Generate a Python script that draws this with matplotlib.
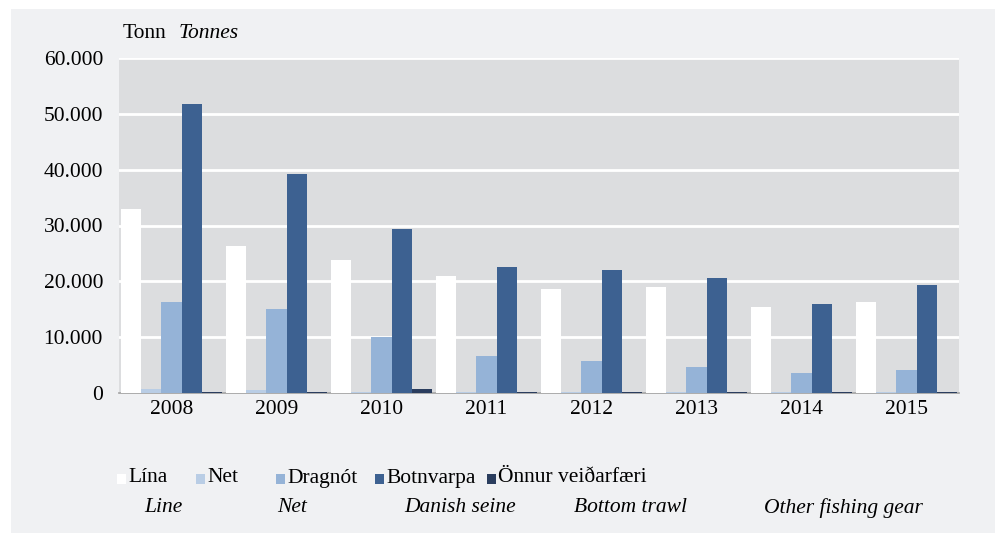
import numpy as np
import matplotlib
matplotlib.use('Agg')
import matplotlib.pyplot as plt
from matplotlib.patches import Rectangle

plt.rcParams['font.family'] = ['Liberation Serif', 'DejaVu Serif']

years = ['2008', '2009', '2010', '2011', '2012', '2013', '2014', '2015']
lina = [33000, 26400, 23900, 21000, 18700, 19000, 15450, 16350]
net = [700, 450, 250, 250, 250, 150, 100, 100]
dragnot = [16350, 15100, 10000, 6700, 5800, 4700, 3550, 4100]
botnvarpa = [51700, 39150, 29450, 22600, 22100, 20650, 16000, 19400]
onnur = [200, 150, 700, 150, 250, 150, 100, 100]

series_is = ['Lína', 'Net', 'Dragnót', 'Botnvarpa', 'Önnur veiðarfæri']
series_en = ['Line', 'Net', 'Danish seine', 'Bottom trawl', 'Other fishing gear']
colors = ['#ffffff', '#b9cde5', '#95b3d7', '#3d6191', '#2a3d5e']

W, H = 1000, 533
fs = 15.5
fig = plt.figure(figsize=(10, 5.33), dpi=100)
fig.patch.set_facecolor('white')
# light grey panel behind the chart
fig.patches.append(Rectangle((11 / W, 0), (995 - 11) / W, (H - 9) / H,
                             transform=fig.transFigure, facecolor='#f0f1f3',
                             edgecolor='none', zorder=-10))

ax = fig.add_axes([119 / W, (H - 393) / H, (959 - 119) / W, (393 - 58) / H])
ax.set_facecolor('#dcdddf')

data = [lina, net, dragnot, botnvarpa, onnur]
x = np.arange(len(years))
bw = 0.192
for i, vals in enumerate(data):
    ax.bar(x - 0.5 + 0.02 + bw * (i + 0.5), vals, width=bw, color=colors[i],
           edgecolor='none', zorder=3)

ax.set_xlim(-0.5, len(years) - 0.5)
ax.set_ylim(0, 60000)
ax.set_yticks(np.arange(0, 60001, 10000))
ax.set_yticklabels(['0', '10.000', '20.000', '30.000', '40.000', '50.000', '60.000'])
ax.set_xticks(x)
ax.set_xticklabels(years)
ax.yaxis.grid(True, color='white', linewidth=2, zorder=1)
ax.tick_params(length=0, labelsize=fs)
ax.tick_params(axis='y', pad=11.5)
ax.tick_params(axis='x', pad=5)
for s in ['top', 'right', 'left']:
    ax.spines[s].set_visible(False)
ax.spines['bottom'].set_color('#a0a0a0')
ax.spines['bottom'].set_linewidth(1.2)

fig.text(123 / W, 1 - 34 / H, 'Tonn', fontsize=fs, va='center')
fig.text(179 / W, 1 - 34 / H, 'Tonnes', fontsize=fs, style='italic', va='center')

# legend, drawn by hand
sq_x = [117, 196, 276, 375, 487]
en_x = [163, 292, 460, 631, 843]
for i in range(5):
    fig.patches.append(Rectangle((sq_x[i] / W, 1 - 484 / H), 9 / W, 10 / H,
                                 transform=fig.transFigure, facecolor=colors[i],
                                 edgecolor='none'))
    fig.text((sq_x[i] + 11) / W, 1 - 478 / H, series_is[i], fontsize=fs, va='center')
    fig.text(en_x[i] / W, 1 - 508 / H, series_en[i], fontsize=fs, style='italic',
             va='center', ha='center')

fig.savefig('out.png', dpi=100, facecolor=fig.get_facecolor())
